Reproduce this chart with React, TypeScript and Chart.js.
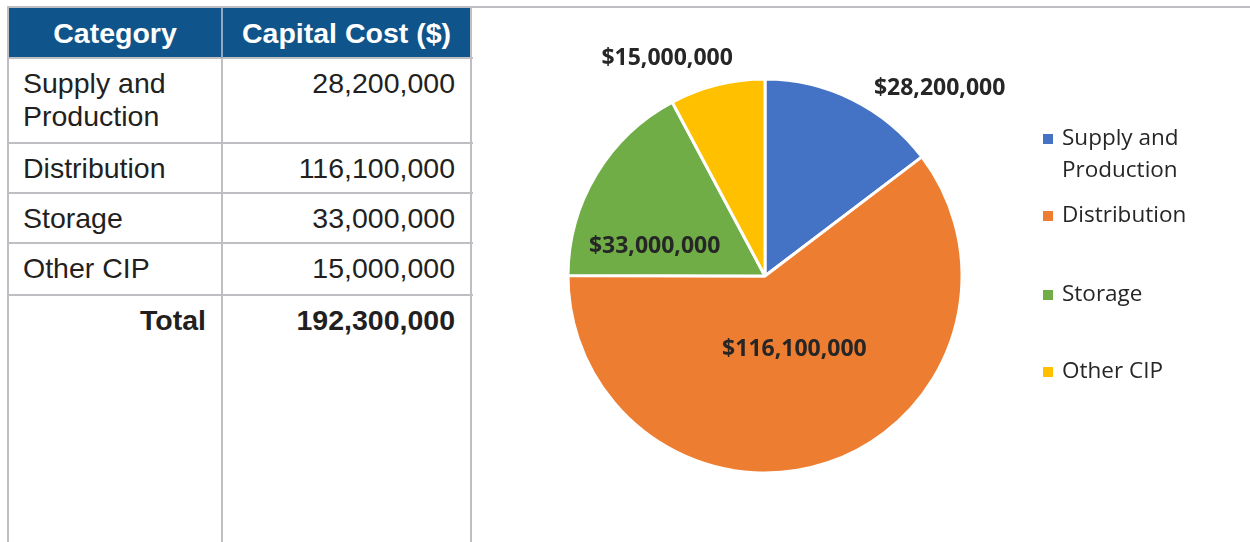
import React, { useEffect, useRef } from "react";
import { Chart, registerables } from "chart.js";

Chart.register(...registerables);

// ---------- data ----------
const categories = ["Supply and Production", "Distribution", "Storage", "Other CIP"];
const capitalCost = [28200000, 116100000, 33000000, 15000000];
const tableHeaders = ["Category", "Capital Cost ($)"];
const totalLabel = "Total";

// ---------- style ----------
const sliceColors = ["#4472c4", "#ed7d31", "#70ad47", "#ffc000"];
// [radius factor, angle offset in degrees] for each slice's value label
const labelPlacement = [
  [1.3, 16.6],
  [0.4, -3.4],
  [0.58, -16],
  [1.21, -10.2],
];
// legend rows (canvas coords)
const legendX = 570;
const legendTextX = 589;
const legendYs = [130, 207, 286, 363];
const legendLineH = 32;
const legendWrap = 150;

const fmt = (v: number) => v.toLocaleString("en-US");
const gridColor = "#bfbfc3";
const textColor = "#231f20";
const tableFont = "'Liberation Sans', Arial, sans-serif";
const chartFont = "'Open Sans', 'Noto Sans', sans-serif";

// table geometry (page coords)
const colX = [8, 222, 471];
const rowEdges = [58, 143, 193, 243, 295];

const labelPlugin = {
  id: "sliceLabels",
  afterDatasetsDraw(chart: any) {
    const ctx = chart.ctx;
    const meta = chart.getDatasetMeta(0);
    ctx.save();
    ctx.font = `bold 23px ${chartFont}`;
    ctx.fillStyle = "#262626";
    ctx.textAlign = "center";
    ctx.textBaseline = "middle";
    meta.data.forEach((arc: any, i: number) => {
      const p = arc.getProps(["x", "y", "startAngle", "endAngle", "outerRadius"], true);
      const mid = (p.startAngle + p.endAngle) / 2 + (labelPlacement[i][1] * Math.PI) / 180;
      const r = p.outerRadius * labelPlacement[i][0];
      ctx.fillText("$" + fmt(capitalCost[i]), p.x + r * Math.cos(mid), p.y + r * Math.sin(mid));
    });
    ctx.restore();
  },
};

const legendPlugin = {
  id: "customLegend",
  afterDraw(chart: any) {
    const ctx = chart.ctx;
    ctx.save();
    ctx.font = `22.5px ${chartFont}`;
    ctx.textBaseline = "middle";
    ctx.textAlign = "left";
    categories.forEach((cat, i) => {
      // simple word wrap
      const words = cat.split(" ");
      const lines: string[] = [];
      let cur = "";
      words.forEach((w) => {
        const t = cur ? cur + " " + w : w;
        if (ctx.measureText(t).width > legendWrap && cur) {
          lines.push(cur);
          cur = w;
        } else cur = t;
      });
      if (cur) lines.push(cur);
      const y = legendYs[i];
      ctx.fillStyle = sliceColors[i];
      ctx.fillRect(legendX, y - 5, 10, 10);
      ctx.fillStyle = "#262626";
      lines.forEach((ln, k) => ctx.fillText(ln, legendTextX, y + k * legendLineH));
    });
    ctx.restore();
  },
};

function PieChart() {
  const ref = useRef<HTMLCanvasElement>(null);
  useEffect(() => {
    if (!ref.current) return;
    const chart = new Chart(ref.current, {
      type: "pie",
      data: {
        labels: categories,
        datasets: [
          {
            data: capitalCost,
            backgroundColor: sliceColors,
            borderColor: "#ffffff",
            borderWidth: 3,
          },
        ],
      },
      options: {
        animation: false,
        responsive: false,
        maintainAspectRatio: false,
        layout: { padding: { left: 93.5, top: 68.5, right: 286.5, bottom: 67.5 } },
        plugins: {
          legend: { display: false },
          tooltip: { enabled: false },
          title: { display: false },
        },
      },
      plugins: [labelPlugin, legendPlugin],
    });
    return () => chart.destroy();
  }, []);
  return (
    <canvas
      ref={ref}
      width={777}
      height={533}
      style={{ position: "absolute", left: 473, top: 9, width: 777, height: 533 }}
    />
  );
}

const total = capitalCost.reduce((a, b) => a + b, 0);

export default function App() {
  const line = (style: React.CSSProperties, key: string) => (
    <div key={key} style={{ position: "absolute", background: gridColor, ...style }} />
  );
  const rows = categories.map((c, i) => ({ label: c, value: fmt(capitalCost[i]), bold: false }));
  rows.push({ label: totalLabel, value: fmt(total), bold: true });
  const cellText: React.CSSProperties = {
    position: "absolute",
    fontFamily: tableFont,
    fontSize: 28.5,
    lineHeight: "33px",
    color: textColor,
    boxSizing: "border-box",
  };
  return (
    <div
      style={{
        position: "fixed",
        left: 0,
        top: 0,
        width: 1250,
        height: 542,
        background: "#ffffff",
        overflow: "hidden",
      }}
    >
      {/* header */}
      <div style={{ position: "absolute", left: 8, top: 8, width: 464, height: 50, background: "#0f548a" }} />
      {tableHeaders.map((h, j) => (
        <div
          key={"h" + j}
          style={{
            ...cellText,
            left: colX[j],
            top: 9,
            width: colX[j + 1] - colX[j],
            height: 49,
            display: "flex",
            alignItems: "center",
            justifyContent: "center",
            color: "#ffffff",
            fontWeight: "bold",
          }}
        >
          {h}
        </div>
      ))}
      {/* body rows */}
      {rows.map((r, i) => {
        const top = rowEdges[i];
        return (
          <React.Fragment key={"r" + i}>
            <div
              style={{
                ...cellText,
                left: colX[0],
                top: top + 9,
                width: colX[1] - colX[0],
                paddingLeft: 15,
                paddingRight: 16,
                textAlign: r.bold ? "right" : "left",
                fontWeight: r.bold ? "bold" : "normal",
              }}
            >
              {r.label}
            </div>
            <div
              style={{
                ...cellText,
                left: colX[1],
                top: top + 9,
                width: colX[2] - colX[1],
                paddingRight: 16,
                textAlign: "right",
                fontWeight: r.bold ? "bold" : "normal",
              }}
            >
              {r.value}
            </div>
          </React.Fragment>
        );
      })}
      {/* grid lines */}
      {line({ left: 7, top: 6, width: 1243, height: 2 }, "top")}
      {rowEdges.map((y, i) => line({ left: 7, top: y - 1, width: 466, height: 2 }, "hr" + i))}
      {line({ left: 7, top: 6, width: 2, height: 536 }, "v0")}
      {line({ left: 221, top: 58, width: 2, height: 484 }, "v1")}
      <div style={{ position: "absolute", left: 221, top: 8, width: 2, height: 50, background: "#8fa9c4" }} />
      {line({ left: 470, top: 6, width: 2, height: 536 }, "v2")}
      <PieChart />
    </div>
  );
}
